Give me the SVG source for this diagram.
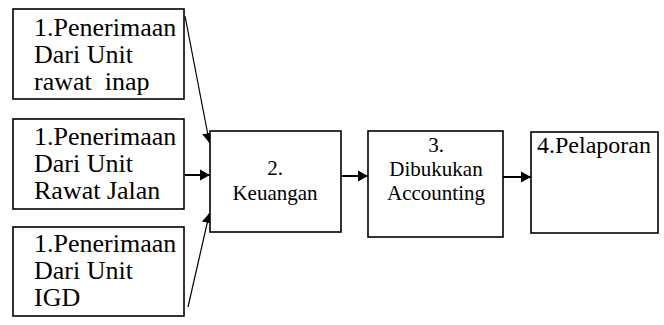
<svg xmlns="http://www.w3.org/2000/svg" width="664" height="325" viewBox="0 0 664 325">
<style>
.box{fill:#fff;stroke:#000;stroke-width:1.6}
text{font-family:'Liberation Serif',Tinos,'Times New Roman','DejaVu Serif',serif;fill:#000}
.big{font-size:26px}
.mid{font-size:21px}
.con{stroke:#000;fill:none}
</style>
<defs>
<marker id="ah" markerUnits="userSpaceOnUse" markerWidth="12" markerHeight="12" refX="10" refY="6" orient="auto">
<path d="M0,0.5 L10,6 L0,11.5 Z" fill="#000"/>
</marker>
</defs>
<rect width="664" height="325" fill="#fff"/>
<g id="connectors">
<line class="con" x1="185" y1="16" x2="209.5" y2="143" stroke-width="1.2" marker-end="url(#ah)"/>
<line class="con" x1="185" y1="175" x2="210" y2="175" stroke-width="2" marker-end="url(#ah)"/>
<line class="con" x1="188" y1="307" x2="209.5" y2="213" stroke-width="1.2" marker-end="url(#ah)"/>
<line class="con" x1="341" y1="176" x2="368" y2="176" stroke-width="2" marker-end="url(#ah)"/>
<line class="con" x1="503" y1="177" x2="531" y2="177" stroke-width="2" marker-end="url(#ah)"/>
</g>
<g id="node-1a">
<rect class="box" x="13" y="9" width="171" height="90"/>
<text class="big" x="34" y="36">1.Penerimaan</text>
<text class="big" x="34" y="63">Dari Unit</text>
<text class="big" x="34" y="90" xml:space="preserve">rawat  inap</text>
</g>
<g id="node-1b">
<rect class="box" x="13" y="119" width="171" height="90"/>
<text class="big" x="34" y="145">1.Penerimaan</text>
<text class="big" x="34" y="172">Dari Unit</text>
<text class="big" x="34" y="199">Rawat Jalan</text>
</g>
<g id="node-1c">
<rect class="box" x="13" y="227" width="171" height="89"/>
<text class="big" x="34" y="252">1.Penerimaan</text>
<text class="big" x="34" y="279">Dari Unit</text>
<text class="big" x="34" y="306">IGD</text>
</g>
<g id="node-2">
<rect class="box" x="210" y="131" width="131" height="101"/>
<text class="mid" x="275" y="175" text-anchor="middle">2.</text>
<text class="mid" x="275" y="200" text-anchor="middle">Keuangan</text>
</g>
<g id="node-3">
<rect class="box" x="368" y="131" width="135" height="106"/>
<text class="mid" x="436" y="152" text-anchor="middle">3.</text>
<text class="mid" x="436" y="176" text-anchor="middle">Dibukukan</text>
<text class="mid" x="436" y="200" text-anchor="middle">Accounting</text>
</g>
<g id="node-4">
<rect class="box" x="531" y="132" width="127" height="101"/>
<text x="537" y="153" font-size="24">4.Pelaporan</text>
</g>
</svg>
